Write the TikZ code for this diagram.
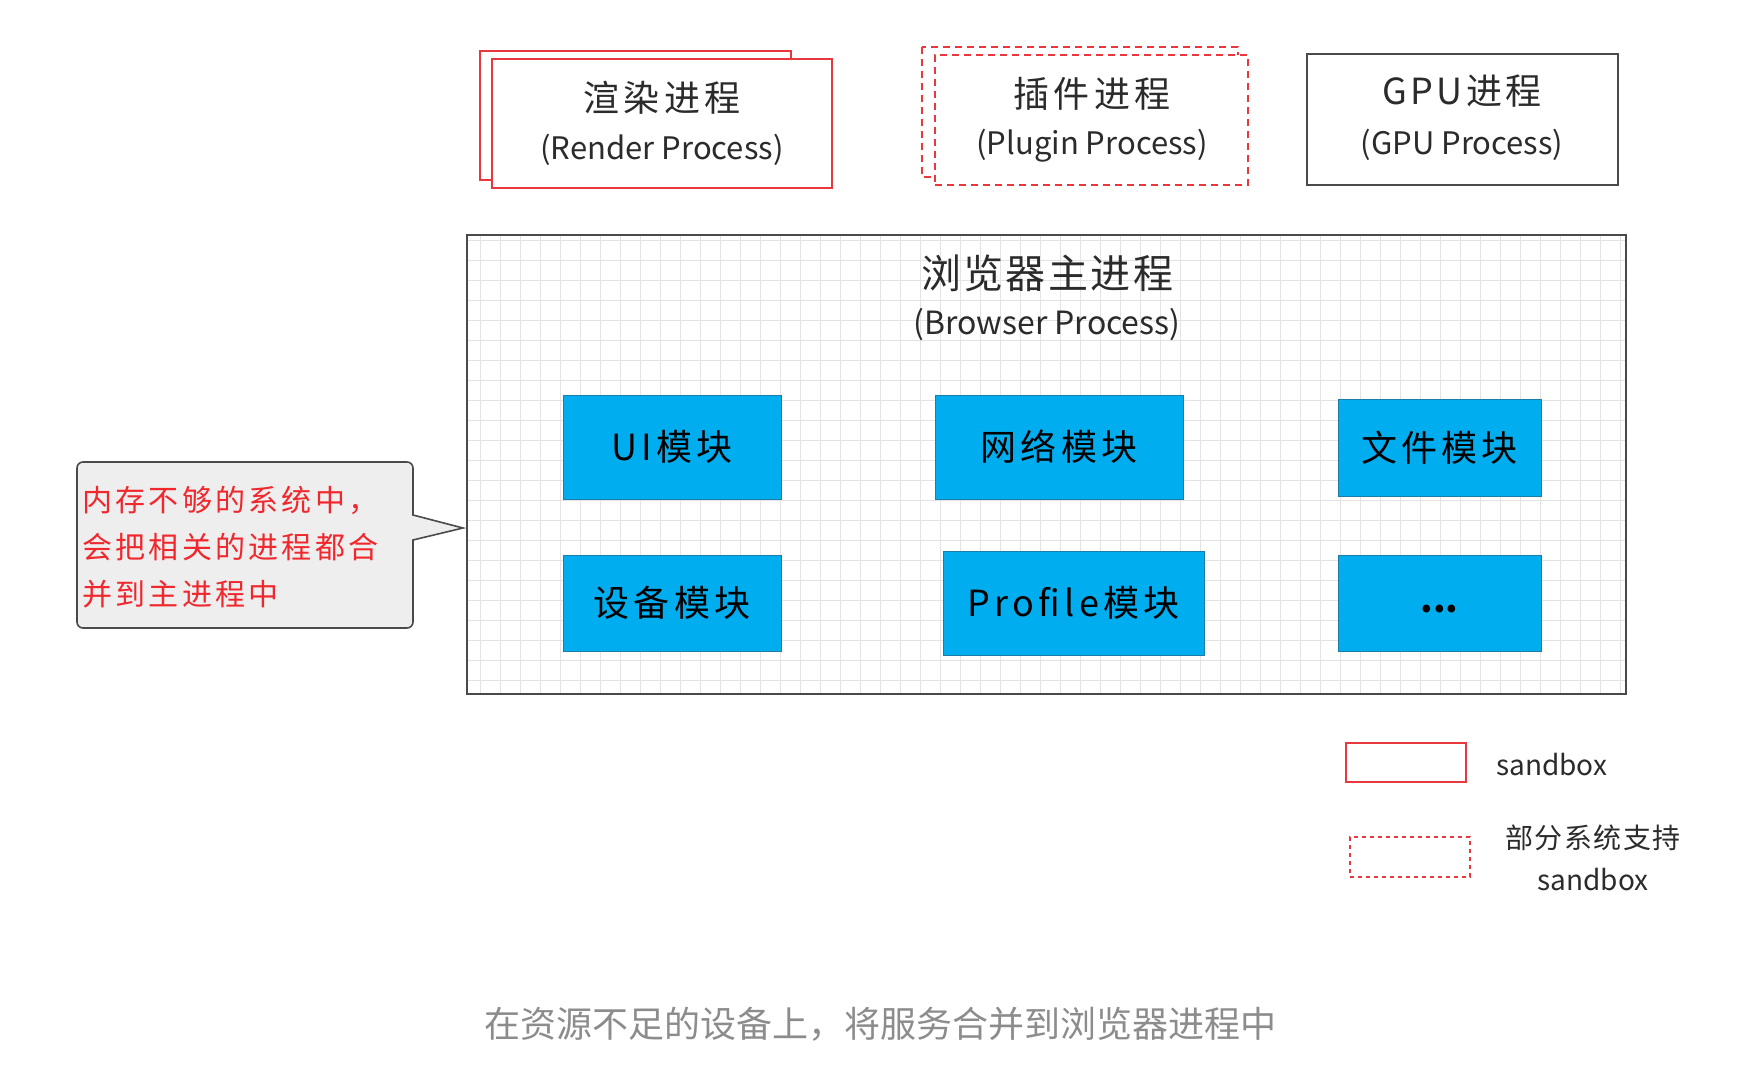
\documentclass[tikz,border=0pt]{standalone}
\usepackage{fontspec}
\newfontfamily\cjk{Noto Sans CJK SC}
\definecolor{sbred}{HTML}{E8383D}
\definecolor{notered}{HTML}{F0282D}
\definecolor{modblue}{HTML}{00AEEF}
\definecolor{modedge}{HTML}{1C7EA6}
\definecolor{boxgray}{HTML}{4A4A4A}
\definecolor{txtgray}{HTML}{2B2B2B}
\definecolor{capgray}{HTML}{8C8C8C}
\definecolor{notefill}{HTML}{EFEEEE}
\definecolor{gridgray}{HTML}{E3E3E3}

\tikzset{
  sandboxline/.style={draw=sbred, line width=1.6pt},
  partline/.style={draw=sbred, line width=2.6pt, dash pattern=on 7pt off 5pt},
  dotline/.style={draw=sbred, line width=2pt, dash pattern=on 4pt off 4pt},
  plainline/.style={draw=boxgray, line width=1.6pt},
  title/.style={font=\cjk\addfontfeature{LetterSpace=12}\fontsize{36pt}{40pt}\selectfont,
    text=txtgray, inner sep=0pt},
  subtitle/.style={font=\cjk\fontsize{31pt}{36pt}\selectfont, text=txtgray, inner sep=0pt},
  module/.style={draw=modedge, fill=modblue, line width=1pt, text=black,
    font=\cjk\addfontfeature{LetterSpace=12}\fontsize{36pt}{40pt}\selectfont},
  notetext/.style={font=\cjk\addfontfeature{LetterSpace=11}\fontsize{30pt}{47pt}\selectfont,
    text=notered, align=left, inner sep=0pt},
  legtext/.style={font=\cjk\fontsize{28pt}{42pt}\selectfont, text=txtgray, inner sep=0pt},
}

\begin{document}
\begin{tikzpicture}[x=1pt,y=-1pt]
\useasboundingbox (0,0) rectangle (1746,1070);
\fill[white] (0,0) rectangle (1746,1070);

% render process
\draw[sandboxline, fill=white] (480,51) rectangle (791,180);
\node[sandboxline, fill=white, minimum width=340pt, minimum height=129pt] (render) at (662,123.5) {};
\node[title] (renderzh) at (662,98) {渲染进程};
\node[subtitle] (renderen) at (662,150) {(Render Process)};

% plugin process
\draw[partline, fill=white] (922,47) rectangle (1238,177);
\node[partline, fill=white, minimum width=313pt, minimum height=130pt] (plugin) at (1091.5,120) {};
\node[title] (pluginzh) at (1092,94) {插件进程};
\node[subtitle] (pluginen) at (1092,146) {(Plugin Process)};

% gpu process
\node[plainline, minimum width=311pt, minimum height=131pt] (gpu) at (1462.5,119.5) {};
\node[title, font=\cjk\addfontfeature{LetterSpace=10}\fontsize{36pt}{40pt}\selectfont] (gpuzh) at (1462,91) {GPU进程};
\node[subtitle] (gpuen) at (1462,145) {(GPU Process)};

% browser process
\draw[gridgray, line width=1pt, step=20pt] (467,235) grid (1626,694);
\node[plainline, minimum width=1159pt, minimum height=459pt] (browser) at (1046.5,464.5) {};
\node[title, font=\cjk\addfontfeature{LetterSpace=6}\fontsize{40pt}{44pt}\selectfont] (browserzh) at (1047,273) {浏览器主进程};
\node[subtitle, font=\cjk\fontsize{32pt}{36pt}\selectfont] (browseren) at (1047,325) {(Browser Process)};

\node[module, minimum width=218pt, minimum height=104pt] (ui) at (672,447) {UI模块};
\node[module, minimum width=248pt, minimum height=104pt] (net) at (1059,447) {网络模块};
\node[module, minimum width=203pt, minimum height=97pt] (file) at (1439.5,447.5) {文件模块};
\node[module, minimum width=218pt, minimum height=96pt] (device) at (672,603) {设备模块};
\node[module, minimum width=261pt, minimum height=104pt] (profile) at (1073.5,603) {Profile模块};
\node[module, minimum width=203pt, minimum height=96pt] (more) at (1439.5,603)
  {\raisebox{-20pt}{\addfontfeature{LetterSpace=0}\textbf{...}}};

% note
\coordinate (tip) at (463,528);
\draw[boxgray, line width=1.6pt, fill=notefill] (tip) -- (413,540)
  [rounded corners=6pt] -- (413,628) -- (77,628) -- (77,462) -- (413,462)
  [sharp corners] -- (413,515) -- cycle;
\node[notetext, anchor=west] (memo) at (82,547) {内存不够的系统中，\\会把相关的进程都合\\并到主进程中};

% legend
\node[sandboxline, minimum width=120pt, minimum height=39pt] (legsolid) at (1406,762.5) {};
\node[legtext, anchor=west] (legsolidtext) at (1496,765) {sandbox};
\node[dotline, minimum width=120pt, minimum height=40pt] (legpart) at (1410,857) {};
\node[legtext, align=center] (legparttext) at (1593,858) {{\addfontfeature{LetterSpace=5}部分系统支持}\\sandbox};

\node[font=\cjk\fontsize{36pt}{40pt}\selectfont, text=capgray, inner sep=0pt] (caption) at (880,1024) {在资源不足的设备上，将服务合并到浏览器进程中};
\end{tikzpicture}
\end{document}
